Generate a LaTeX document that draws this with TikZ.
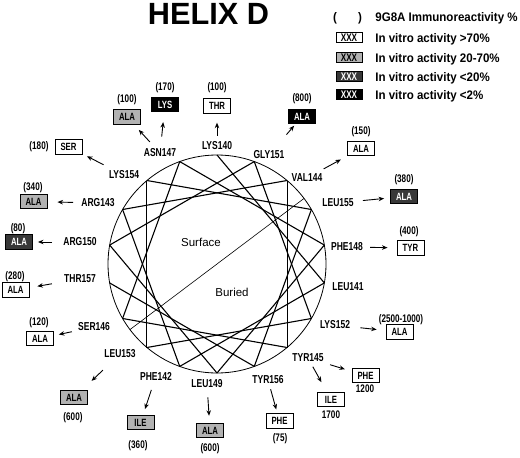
\documentclass[tikz,border=0pt]{standalone}
\usepackage{fontspec}
\setmainfont{Liberation Sans}
\newfontfamily\condfont[FakeStretch=0.74]{Liberation Sans}
\newfontfamily\legfont[FakeStretch=0.93]{Liberation Sans}
\usetikzlibrary{arrows.meta,calc}

\tikzset{every picture/.style={line width=0.75pt}}
\tikzset{
  res/.style={inner sep=0pt, font=\condfont\bfseries\fontsize{11.5}{11.5}\selectfont},
  val/.style={inner sep=0pt, font=\condfont\bfseries\fontsize{11}{11}\selectfont},
  mut/.style={draw, line width=0.9pt, minimum width=27pt, minimum height=14.5pt, inner sep=0pt, font=\condfont\bfseries\fontsize{10.5}{10.5}\selectfont},
  mutw/.style={mut, fill=white},
  mutl/.style={mut, fill=black!30},
  mutd/.style={mut, fill=black!78, text=white},
  mutk/.style={mut, fill=black, text=white},
  legbox/.style={mut, minimum width=26pt, minimum height=10pt, font=\condfont\bfseries\fontsize{11}{11}\selectfont},
  legtxt/.style={inner sep=0pt, anchor=base west, font=\legfont\bfseries\fontsize{12.4}{12.4}\selectfont},
  sub/.style={-{Stealth[length=5.5pt,width=4.5pt]}, line width=0.9pt},
  helix/.style={line width=1.1pt},
}

\begin{document}
\begin{tikzpicture}[x=1pt,y=1pt,yscale=-1,xscale=1]
    \useasboundingbox (0,0) rectangle (520,458);

    %Shape: Circle
    \coordinate (c) at (217,264);
    \draw [line width=0.8pt] (c) circle (109);
    %Straight Lines (wheel)
    \foreach \n in {140,...,157} \coordinate (p\n) at ($(c)+({100*(\n-140)-90}:109)$);
    \foreach \n in {140,...,156} {
      \pgfmathtruncatemacro{\m}{\n+1}
      \draw [helix] (p\n) -- (p\m);
    }
    %Straight Lines (surface / buried)
    \draw [line width=0.6pt] ($(c)+(-37:109)$) -- ($(c)+(143:109)$);

    % Text Node
    \draw (208.5,14) node [inner sep=0pt, font=\bfseries\fontsize{30.7}{30.7}\selectfont] (title) {HELIX D};
    % Text Node
    \draw (201,242) node [inner sep=0pt, font=\fontsize{11.5}{11.5}\selectfont] (surf) {Surface};
    % Text Node
    \draw (232,292) node [inner sep=0pt, font=\fontsize{11.5}{11.5}\selectfont] (buried) {Buried};

    % Legend
    \draw (335,21) node [legtxt, anchor=base] (lpa) {(};
    \draw (360,21) node [legtxt, anchor=base] (lpb) {)};
    \draw (375,21) node [legtxt] (leg0) {9G8A Immunoreactivity \%};
    \draw (349,37.5) node [legbox, fill=white] (key1) {XXX};
    \draw (375,42) node [legtxt] (leg1) {In vitro activity >70\%};
    \draw (349,57.5) node [legbox, fill=black!30] (key2) {XXX};
    \draw (375,62) node [legtxt] (leg2) {In vitro activity 20-70\%};
    \draw (349,76.5) node [legbox, fill=black!78, text=white] (key3) {XXX};
    \draw (375,81) node [legtxt] (leg3) {In vitro activity <20\%};
    \draw (349,94.5) node [legbox, fill=black, text=white] (key4) {XXX};
    \draw (375,99) node [legtxt] (leg4) {In vitro activity <2\%};

    % Residue Nodes
    \draw (160,153) node [res] (asn147) {ASN147};
    \draw (217,146) node [res] (lys140) {LYS140};
    \draw (269,155) node [res] (gly151) {GLY151};
    \draw (307,178) node [res] (val144) {VAL144};
    \draw (338,203) node [res] (leu155) {LEU155};
    \draw (347,247) node [res] (phe148) {PHE148};
    \draw (348,287) node [res] (leu141) {LEU141};
    \draw (335,325) node [res] (lys152) {LYS152};
    \draw (308,358) node [res] (tyr145) {TYR145};
    \draw (268,380) node [res] (tyr156) {TYR156};
    \draw (207,384) node [res] (leu149) {LEU149};
    \draw (156,376) node [res] (phe142) {PHE142};
    \draw (120,354) node [res] (leu153) {LEU153};
    \draw (94,327) node [res] (ser146) {SER146};
    \draw (80,279) node [res] (thr157) {THR157};
    \draw (80,242) node [res] (arg150) {ARG150};
    \draw (98,203) node [res] (arg143) {ARG143};
    \draw (124,175) node [res] (lys154) {LYS154};

    % Mutant Nodes
    \draw (127,117) node [mutl] (m147a) {ALA};
    \draw (127,100) node [val] (v147a) {(100)};
    \draw (165,104.5) node [mutk] (m147b) {LYS};
    \draw (165,88) node [val] (v147b) {(170)};
    \draw (217,106) node [mutw] (m140) {THR};
    \draw (217,88) node [val] (v140) {(100)};
    \draw (302,116.5) node [mutk] (m151) {ALA};
    \draw (302,99) node [val] (v151) {(800)};
    \draw (361,148.5) node [mutw] (m144) {ALA};
    \draw (361,131.5) node [val] (v144) {(150)};
    \draw (404,196.5) node [mutd] (m155) {ALA};
    \draw (404,180) node [val] (v155) {(380)};
    \draw (410.5,248) node [mutw] (m148) {TYR};
    \draw (409,232) node [val] (v148) {(400)};
    \draw (399.5,332) node [mutw] (m152) {ALA};
    \draw (401,320) node [val] (v152) {(2500-1000)};
    \draw (365.5,375.5) node [mutw] (m145a) {PHE};
    \draw (365,389) node [val] (v145a) {1200};
    \draw (331,399.5) node [mutw] (m145b) {ILE};
    \draw (331,415) node [val] (v145b) {1700};
    \draw (279.5,421) node [mutw] (m156) {PHE};
    \draw (280,439) node [val] (v156) {(75)};
    \draw (210,430.5) node [mutl] (m149) {ALA};
    \draw (210,449) node [val] (v149) {(600)};
    \draw (140.5,422.5) node [mutl] (m142) {ILE};
    \draw (138,446) node [val] (v142) {(360)};
    \draw (74,397.5) node [mutl] (m153) {ALA};
    \draw (73,418) node [val] (v153) {(600)};
    \draw (40,338.5) node [mutw] (m146) {ALA};
    \draw (39,323) node [val] (v146) {(120)};
    \draw (15.5,290) node [mutw] (m157) {ALA};
    \draw (15,277) node [val] (v157) {(280)};
    \draw (19,242) node [mutd] (m150) {ALA};
    \draw (18,229) node [val] (v150) {(80)};
    \draw (33.5,201.5) node [mutl] (m143) {ALA};
    \draw (33,188) node [val] (v143) {(340)};
    \draw (68.5,147) node [mutw] (m154) {SER};
    \draw (39,147) node [val] (v154) {(180)};

    %Straight Lines (substitutions)
    \draw [sub, shorten <=9pt, shorten >=7pt] (asn147) -- (m147a);
    \draw [sub, shorten <=12pt, shorten >=10pt] (asn147) -- (m147b);
    \draw [sub, shorten <=6pt, shorten >=9pt] (lys140) -- (m140);
    \draw [sub, shorten <=21pt, shorten >=2pt] (gly151) -- (m151);
    \draw [sub, shorten <=10pt, shorten >=7pt] (val144) -- (m144);
    \draw [sub, shorten <=9pt, shorten >=6pt] (leu155) -- (m155);
    \draw [sub, shorten <=7pt, shorten >=9pt] (phe148) -- (m148);
    \draw [sub, shorten <=10pt, shorten >=9pt] (lys152) -- (m152);
    \draw [sub, shorten <=8pt, shorten >=7pt] (tyr145) -- (m145a);
    \draw [sub, shorten <=5pt, shorten >=11pt] (tyr145) -- (m145b);
    \draw [sub, shorten <=5pt, shorten >=4pt] (tyr156) -- (m156);
    \draw [sub, shorten <=9pt, shorten >=7pt] (leu149) -- (m149);
    \draw [sub, shorten <=10pt, shorten >=6pt] (phe142) -- (m142);
    \draw [sub, shorten <=17pt, shorten >=13pt] (leu153) -- (m153);
    \draw [sub, shorten <=6pt, shorten >=5pt] (ser146) -- (m146);
    \draw [sub, shorten <=12pt, shorten >=8pt] (thr157) -- (m157);
    \draw [sub, shorten <=11pt, shorten >=5pt] (arg150) -- (m150);
    \draw [sub, shorten <=8pt, shorten >=10pt] (arg143) -- (m143);
    \draw [sub, shorten <=13pt, shorten >=5pt] (lys154) -- (m154);
\end{tikzpicture}
\end{document}
